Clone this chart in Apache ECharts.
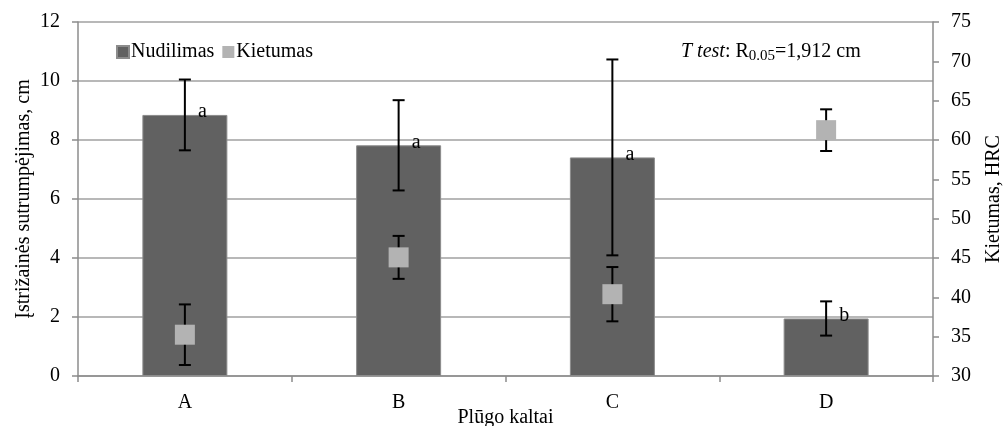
<!DOCTYPE html>
<html>
<head>
<meta charset="utf-8">
<script src="https://cdn.jsdelivr.net/npm/echarts@6/dist/echarts.min.js"></script>
<style>
  html, body { margin: 0; padding: 0; background: #fff; }
  #chart { width: 1003px; height: 426px; }
</style>
</head>
<body>
<div id="chart"></div>
<script>
var categories = ['A', 'B', 'C', 'D'];
var nudilimas = [8.85, 7.82, 7.41, 1.95];
var nudilimasErr = [1.2, 1.53, 3.32, 0.58];
var letters = ['a', 'a', 'a', 'b'];
var kietumas = [35.25, 45.08, 40.4, 61.25];
var kietumasErr = [3.85, 2.73, 3.45, 2.65];

var font = 'Liberation Serif';
var fs = 20;

function errData(vals, errs) {
    return vals.map(function (v, i) {
        return [i, v - errs[i], v + errs[i], v];
    });
}

function renderErr(withLetter) {
    return function (params, api) {
        var lo = api.coord([api.value(0), api.value(1)]);
        var hi = api.coord([api.value(0), api.value(2)]);
        var mid = api.coord([api.value(0), api.value(3)]);
        var x = lo[0];
        var cap = 6;
        var st = { stroke: '#000', lineWidth: 2 };
        var children = [
            { type: 'line', shape: { x1: x, y1: lo[1], x2: x, y2: hi[1] }, style: st },
            { type: 'line', shape: { x1: x - cap, y1: lo[1], x2: x + cap, y2: lo[1] }, style: st },
            { type: 'line', shape: { x1: x - cap, y1: hi[1], x2: x + cap, y2: hi[1] }, style: st }
        ];
        if (withLetter) {
            children.push({
                type: 'text',
                style: {
                    x: x + 13, y: mid[1] - 3,
                    text: letters[params.dataIndex],
                    font: fs + 'px ' + font,
                    fill: '#000',
                    verticalAlign: 'middle', align: 'left'
                }
            });
        }
        return { type: 'group', children: children };
    };
}

var dom = document.getElementById('chart');
var myChart = echarts.init(dom);
var option = {
    animation: false,
    textStyle: { fontFamily: font },
    title: {
        left: 676, top: 35,
        text: '{i|T test}: R{sub|0.05}=1,912 cm',
        textStyle: {
            fontFamily: font, fontSize: fs, fontWeight: 'normal', color: '#000',
            rich: {
                i: { fontFamily: font, fontSize: fs, fontStyle: 'italic', color: '#000' },
                sub: { fontFamily: font, fontSize: 15, color: '#000', verticalAlign: 'bottom', padding: [9, 0, 0, 0] }
            }
        }
    },
    legend: {
        left: 111, top: 37,
        icon: 'rect',
        itemWidth: 12, itemHeight: 12, itemGap: 8,
        textStyle: { fontFamily: font, fontSize: fs, color: '#000', padding: [0, 0, 0, -3] },
        data: ['Nudilimas', 'Kietumas']
    },
    grid: { left: 78, right: 70, top: 22, bottom: 50, containLabel: false, outerBoundsMode: 'none' },
    xAxis: {
        type: 'category',
        data: categories,
        name: 'Plūgo kaltai',
        nameLocation: 'middle',
        nameGap: 32,
        nameMoveOverlap: false,
        nameTextStyle: { fontFamily: font, fontSize: fs, color: '#000' },
        axisLine: { lineStyle: { color: '#8c8c8c', width: 1.5 } },
        axisTick: { show: true, length: 6, alignWithLabel: false, lineStyle: { color: '#8c8c8c', width: 1.5 } },
        axisLabel: { fontFamily: font, fontSize: fs, color: '#000', margin: 17 }
    },
    yAxis: [
        {
            type: 'value', min: 0, max: 12, interval: 2,
            name: 'Įstrižainės sutrumpėjimas, cm',
            nameLocation: 'middle', nameGap: 44,
            nameMoveOverlap: false,
            nameTextStyle: { fontFamily: font, fontSize: fs, color: '#000' },
            axisLine: { show: true, lineStyle: { color: '#8c8c8c', width: 1.5 } },
            axisTick: { show: true, length: 6, lineStyle: { color: '#8c8c8c', width: 1.5 } },
            axisLabel: { fontFamily: font, fontSize: fs, color: '#000', margin: 18 },
            splitLine: { lineStyle: { color: '#a0a0a0', width: 1.5 } }
        },
        {
            type: 'value', min: 30, max: 75, interval: 5,
            name: 'Kietumas, HRC',
            nameLocation: 'middle', nameGap: 51,
            nameMoveOverlap: false,
            nameTextStyle: { fontFamily: font, fontSize: fs, color: '#000' },
            axisLine: { show: true, lineStyle: { color: '#8c8c8c', width: 1.5 } },
            axisTick: { show: true, length: 6, lineStyle: { color: '#8c8c8c', width: 1.5 } },
            axisLabel: { fontFamily: font, fontSize: fs, color: '#000', margin: 18 },
            splitLine: { show: false }
        }
    ],
    series: [
        {
            name: 'Nudilimas',
            type: 'bar',
            yAxisIndex: 0,
            barWidth: 85,
            z: 2,
            data: nudilimas,
            itemStyle: { color: '#616161', borderColor: '#8c8c8c', borderWidth: 1 }
        },
        {
            type: 'custom',
            yAxisIndex: 0,
            z: 3,
            renderItem: renderErr(true),
            data: errData(nudilimas, nudilimasErr),
            silent: true
        },
        {
            type: 'custom',
            yAxisIndex: 1,
            z: 3,
            renderItem: renderErr(false),
            data: errData(kietumas, kietumasErr),
            silent: true
        },
        {
            name: 'Kietumas',
            type: 'scatter',
            yAxisIndex: 1,
            symbol: 'rect',
            symbolSize: 20,
            z: 4,
            data: kietumas,
            itemStyle: { color: '#b3b3b3', opacity: 1 }
        }
    ]
};
myChart.setOption(option);
window.addEventListener('resize', function () {
    myChart.resize();
});
</script>
</body>
</html>
